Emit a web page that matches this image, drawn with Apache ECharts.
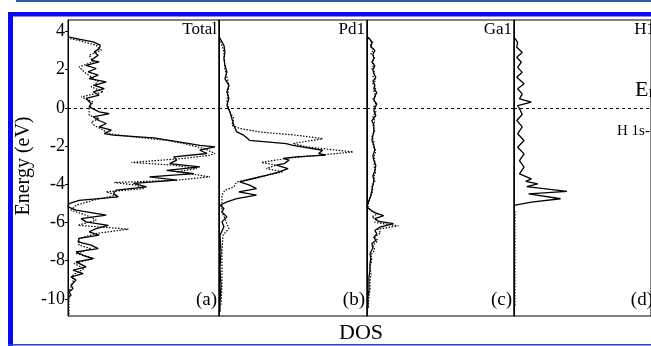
<!DOCTYPE html>
<html>
<head>
<meta charset="utf-8">
<script src="https://cdn.jsdelivr.net/npm/echarts@6/dist/echarts.min.js"></script>
<style>
  html, body { margin: 0; padding: 0; background: #fff; }
  #chart { width: 651px; height: 346px; }
</style>
</head>
<body>
<div id="chart"></div>
<script>
// Projected density of states, pairs of [energy (eV), DOS (arb. units)]
const totalSolid = [
  [3.72,0],[3.59,12],[3.45,25],[3.28,32],[3.10,31],[2.93,26],[2.76,30],[2.49,23],[2.41,31],[2.23,18],
  [2.06,28],[1.88,20],[1.71,30],[1.53,21],[1.36,38],[1.18,26],[1.01,36],[0.84,25],[0.66,31],[0.49,18],
  [0.23,23],[0.05,21],[-0.21,31],[-0.30,41],[-0.47,25],[-0.65,30],[-0.82,38],[-1.00,31],[-1.17,43],[-1.35,36],
  [-1.43,45],[-1.57,85],[-1.78,110],[-1.96,131],[-2.04,146],[-2.22,131],[-2.39,138],[-2.57,105],[-2.74,108],[-2.92,101],
  [-3.09,131],[-3.27,98],[-3.44,125],[-3.61,81],[-3.79,108],[-3.96,65],[-4.14,78],[-4.31,48],[-4.49,45],[-4.66,50],
  [-4.84,11],[-5.01,1],[-5.19,0],[-5.36,8],[-5.62,38],[-5.80,13],[-5.97,18],[-6.15,40],[-6.32,28],[-6.49,21],
  [-6.67,31],[-6.84,11],[-7.02,10],[-7.19,23],[-7.37,30],[-7.54,8],[-7.72,15],[-7.89,25],[-8.07,8],[-8.33,18],
  [-8.50,5],[-8.68,15],[-8.85,3],[-9.02,8],[-9.29,3],[-9.46,5],[-9.64,1],[-9.81,3],[-9.95,0]
];
const totalDotted = [
  [3.62,2],[3.54,10],[3.28,28],[3.02,33],[2.76,21],[2.41,25],[2.14,11],[1.88,16],[1.62,23],[1.36,30],
  [1.10,23],[0.84,35],[0.57,13],[0.31,25],[-0.04,21],[-0.39,21],[-0.56,31],[-0.74,23],[-0.91,26],[-1.17,35],
  [-1.35,40],[-1.52,65],[-1.70,98],[-1.87,115],[-2.13,135],[-2.39,146],[-2.48,141],[-2.65,115],[-2.86,63],[-3.00,105],
  [-3.18,128],[-3.35,108],[-3.61,141],[-3.79,108],[-3.91,46],[-4.05,68],[-4.23,75],[-4.40,38],[-4.57,48],[-4.84,25],
  [-5.10,8],[-5.36,3],[-5.62,18],[-5.88,28],[-6.15,10],[-6.35,60],[-6.58,28],[-6.84,11],[-7.19,11],[-7.37,23],
  [-7.63,8],[-7.89,26],[-8.15,6],[-8.41,16],[-8.76,5],[-9.11,5],[-9.64,1],[-9.98,1],[-10.40,1],[-10.85,1]
];
const pd1Solid = [
  [3.72,0],[3.63,1],[3.28,5],[2.93,6],[2.58,5],[2.23,6],[1.88,8],[1.53,6],[1.18,10],[0.84,8],
  [0.49,10],[0.14,8],[-0.21,11],[-0.56,13],[-0.91,15],[-1.26,18],[-1.43,25],[-1.70,31],[-1.87,68],[-1.96,75],
  [-2.22,105],[-2.39,101],[-2.48,108],[-2.57,78],[-2.65,65],[-2.74,71],[-2.92,66],[-3.00,58],[-3.18,70],[-3.35,61],
  [-3.53,48],[-3.70,35],[-3.88,21],[-4.05,31],[-4.23,38],[-4.40,20],[-4.57,38],[-4.75,18],[-4.92,8],[-5.10,1],
  [-5.27,5],[-5.45,3],[-5.71,8],[-5.97,3],[-6.23,5],[-6.67,1],[-7.54,2],[-8.41,1],[-9.29,2],[-10.16,1],[-10.68,1]
];
const pd1Dotted = [
  [3.63,1],[2.93,5],[2.06,6],[1.18,10],[0.31,8],[-0.21,11],[-0.56,15],[-0.91,13],[-1.08,21],[-1.26,41],
  [-1.43,78],[-1.61,105],[-1.87,75],[-2.04,88],[-2.31,136],[-2.48,101],[-2.65,68],[-2.86,43],[-3.00,58],[-3.18,48],
  [-3.35,65],[-3.61,41],[-3.88,18],[-4.14,15],[-4.31,6],[-4.57,3],[-4.92,3],[-5.45,3],[-5.80,6],[-6.32,10],
  [-6.67,4],[-7.54,3],[-9.29,3],[-10.33,2]
];
const ga1Solid = [
  [3.70,0.7],[3.60,3],[3.40,5],[3.20,4],[3.00,8],[2.80,6],[2.60,7],[2.40,5],[2.20,8],[2.00,6],
  [1.80,7],[1.60,9],[1.40,6],[1.20,8],[1.00,7],[0.80,10],[0.60,8],[0.40,7],[0.20,10],[0.00,8],
  [-0.15,7],[-0.40,9],[-0.67,5],[-0.90,7],[-1.20,7],[-1.45,6],[-1.70,5],[-1.95,7],[-2.20,8],[-2.50,6],
  [-2.76,7],[-3.00,9],[-3.30,8],[-3.55,6],[-3.80,7],[-4.05,6],[-4.30,5],[-4.60,4],[-4.85,2],[-5.05,0.5],
  [-5.20,0],[-5.47,7],[-5.64,17],[-5.80,8],[-5.95,12],[-6.06,27],[-6.25,13],[-6.42,8],[-6.60,10],[-6.77,7],
  [-6.95,9],[-7.10,5],[-7.35,6],[-7.63,3],[-7.90,4],[-8.15,3],[-8.50,3],[-8.87,2],[-9.20,2],[-9.56,2],
  [-9.90,1],[-10.50,1]
];
const ga1Dotted = [
  [3.65,1],[3.45,6],[3.25,3],[3.05,7],[2.85,4],[2.65,8],[2.45,6],[2.25,7],[2.05,5],[1.85,8],
  [1.65,6],[1.45,9],[1.25,6],[1.05,9],[0.85,7],[0.65,9],[0.45,6],[0.25,9],[0.05,7],[-0.20,9],
  [-0.45,6],[-0.70,8],[-0.95,6],[-1.25,8],[-1.50,5],[-1.75,7],[-2.00,6],[-2.25,9],[-2.55,7],[-2.80,8],
  [-3.05,7],[-3.35,9],[-3.60,7],[-3.85,8],[-4.10,5],[-4.35,6],[-4.65,3],[-4.90,2],[-5.15,1],[-5.35,3],
  [-5.55,11],[-5.70,5],[-5.85,9],[-6.00,8],[-6.18,32],[-6.35,11],[-6.55,14],[-6.75,8],[-6.95,11],[-7.20,6],
  [-7.45,8],[-7.70,4],[-8.00,5],[-8.30,3],[-8.70,4],[-9.10,3],[-9.50,3],[-9.90,2],[-10.50,1]
];
const h1Solid = [
  [3.70,0],[3.43,4],[3.17,3],[2.90,9],[2.65,3],[2.39,8],[2.12,4],[1.86,9],[1.60,3],[1.26,11],
  [1.00,4],[0.73,9],[0.47,6],[0.30,19],[0.12,4],[-0.14,7],[-0.35,9],[-0.66,3],[-1.00,9],[-1.36,4],
  [-1.71,11],[-2.06,4],[-2.41,11],[-2.76,6],[-3.10,11],[-3.46,6],[-3.72,19],[-3.85,13],[-3.98,26],[-4.12,14],
  [-4.37,58],[-4.50,16],[-4.76,51],[-4.94,19],[-5.11,0]
];
const h1Dotted = [[-5.40,1],[-10.40,1]];

const yTicks = [-10, -8, -6, -4, -2, 0, 2, 4];
const panelNames = ['Total', 'Pd1', 'Ga1', 'H1'];
const panelTags = ['(a)', '(b)', '(c)', '(d)'];
const curves = [
  [totalSolid, totalDotted],
  [pd1Solid, pd1Dotted],
  [ga1Solid, ga1Dotted],
  [h1Solid, h1Dotted]
];

const serif = '"Liberation Serif", "Times New Roman", serif';
const panelLeft = [68, 219, 367, 514];
const panelWidth = [151, 148, 147, 148];
const plotTop = 20, plotHeight = 296;

const chart = echarts.init(document.getElementById('chart'), null, { renderer: 'canvas' });

const grids = [], xAxes = [], yAxes = [], series = [];
curves.forEach((pair, i) => {
  grids.push({
    left: panelLeft[i], top: plotTop, width: panelWidth[i], height: plotHeight,
    show: true, borderColor: '#000', borderWidth: 1, backgroundColor: 'transparent'
  });
  xAxes.push({ type: 'value', gridIndex: i, min: 0, max: 150, show: false });
  yAxes.push({
    type: 'value', gridIndex: i, min: -10.9, max: 4.6,
    axisLine: { show: true, onZero: false, lineStyle: { color: '#000', width: 1 } },
    axisTick: i === 0
      ? { show: true, inside: false, length: 3, customValues: yTicks, lineStyle: { color: '#000' } }
      : { show: false },
    axisLabel: i === 0
      ? { show: true, customValues: yTicks, margin: 3, color: '#000', fontFamily: serif, fontSize: 18 }
      : { show: false },
    splitLine: { show: false }
  });
  // dotted curve first, solid drawn on top
  series.push({
    type: 'line', xAxisIndex: i, yAxisIndex: i, symbol: 'none', silent: true,
    data: pair[1].map(p => [p[1], p[0]]),
    lineStyle: { color: '#000', width: 1.2, type: [1.5, 1.5] },
    markLine: {
      silent: true, symbol: 'none', label: { show: false },
      lineStyle: { color: '#000', width: 1, type: [3, 3] },
      data: [{ yAxis: 0 }]
    }
  });
  series.push({
    type: 'line', xAxisIndex: i, yAxisIndex: i, symbol: 'none', silent: true,
    data: pair[0].map(p => [p[1], p[0]]),
    lineStyle: { color: '#000', width: 1.3 }
  });
});

const nameRight = [217, 365, 512, 655];
const tagRight = [217, 365, 512, 653];
const graphics = [
  // page frame
  { type: 'rect', shape: { x: 16, y: 0, width: 640, height: 2 }, style: { fill: '#2a5caa' }, silent: true },
  { type: 'rect', shape: { x: 8, y: 12, width: 650, height: 4.5 }, style: { fill: '#0a0af2' }, silent: true },
  { type: 'rect', shape: { x: 8, y: 12, width: 5, height: 340 }, style: { fill: '#0a0af2' }, silent: true },
  { type: 'rect', shape: { x: 8, y: 344, width: 650, height: 1.5 }, style: { fill: '#2a3fd8' }, silent: true },
  {
    type: 'text', x: 24, y: 166, rotation: Math.PI / 2,
    style: { text: 'Energy (eV)', font: '20px ' + serif, fill: '#000', textAlign: 'center', textVerticalAlign: 'middle' }
  },
  {
    type: 'text', x: 361, y: 333,
    style: { text: 'DOS', font: '22px ' + serif, fill: '#000', textAlign: 'center', textVerticalAlign: 'middle' }
  },
  {
    type: 'text', x: 635, y: 101,
    style: {
      text: '{e|E}{f|F}', fill: '#000', textAlign: 'left', textVerticalAlign: 'bottom',
      rich: {
        e: { font: '22px ' + serif, fill: '#000' },
        f: { font: '13px ' + serif, fill: '#000', padding: [8, 0, 0, 0] }
      }
    }
  },
  {
    type: 'text', x: 617, y: 131,
    style: { text: 'H 1s-', font: '15px ' + serif, fill: '#000', textAlign: 'left', textVerticalAlign: 'middle' }
  }
];
panelNames.forEach((n, i) => {
  graphics.push({
    type: 'text', x: nameRight[i], y: 30,
    style: { text: n, font: '17px ' + serif, fill: '#000', textAlign: 'right', textVerticalAlign: 'middle' }
  });
  graphics.push({
    type: 'text', x: tagRight[i], y: 300,
    style: { text: panelTags[i], font: '19px ' + serif, fill: '#000', textAlign: 'right', textVerticalAlign: 'middle' }
  });
});

chart.setOption({
  backgroundColor: '#fff',
  animation: false,
  grid: grids,
  xAxis: xAxes,
  yAxis: yAxes,
  series: series,
  graphic: graphics
});
</script>
</body>
</html>
